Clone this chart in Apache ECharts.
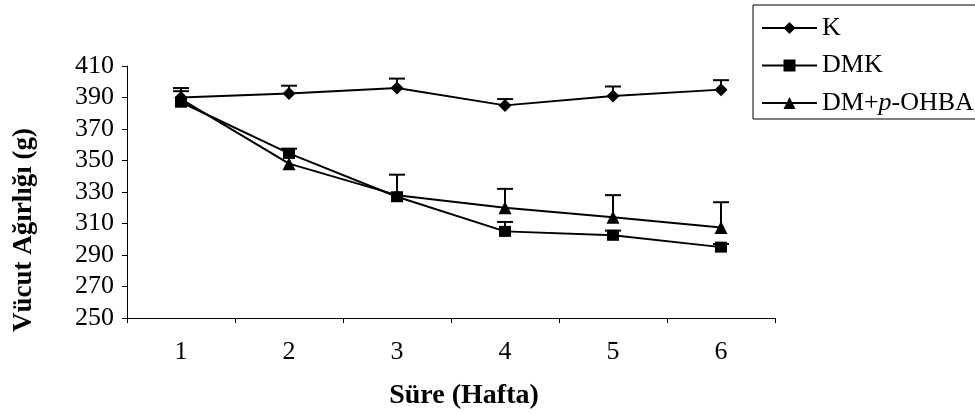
<!DOCTYPE html>
<html>
<head>
<meta charset="utf-8">
<script src="https://cdn.jsdelivr.net/npm/echarts@6/dist/echarts.min.js"></script>
<style>html,body{margin:0;padding:0;background:#fff;}#c{width:975px;height:414px;}</style>
</head>
<body>
<div id="c"></div>
<script>
var categories = ['1', '2', '3', '4', '5', '6'];
var seriesNames = ['K', 'DMK', 'DM+p-OHBA'];
var kValues = [390, 392.5, 396, 385, 391, 395];
var dmkValues = [387, 354.5, 327, 305, 302.5, 295];
var dmpValues = [389, 348, 328, 320, 314, 307.5];
var kErrors = [6, 5, 6, 4, 6, 6];
var dmkErrors = [0, 3, 0, 6, 3, 2];
var dmpErrors = [5, 0, 13, 12, 14, 16];
var yTicks = { min: 250, max: 410, interval: 20 };
var xTitle = 'Süre (Hafta)';
var yTitle = 'Vücut Ağırlığı (g)';

var FONT = '"Liberation Serif", "Times New Roman", serif';

function errSeries(values, errors) {
  var data = values.map(function (v, i) { return [i, v, errors[i]]; });
  return {
    type: 'custom',
    silent: true,
    z: 3,
    data: data,
    renderItem: function (params, api) {
      var i = api.value(0), v = api.value(1), e = api.value(2);
      if (!e) return null;
      var p0 = api.coord([i, v]);
      var p1 = api.coord([i, v + e]);
      var hw = 8;
      return {
        type: 'group',
        children: [
          { type: 'line', shape: { x1: p0[0], y1: p0[1], x2: p1[0], y2: p1[1] }, style: { stroke: '#000', lineWidth: 2 } },
          { type: 'line', shape: { x1: p1[0] - hw, y1: p1[1], x2: p1[0] + hw, y2: p1[1] }, style: { stroke: '#000', lineWidth: 2 } }
        ]
      };
    }
  };
}

function lineSeries(name, values, symbol, size) {
  return {
    name: name,
    type: 'line',
    data: values,
    symbol: symbol,
    symbolSize: size,
    showAllSymbol: true,
    z: 4,
    lineStyle: { color: '#000', width: 2 },
    itemStyle: { color: '#000', borderWidth: 0 },
    emphasis: { disabled: true },
    animation: false
  };
}

var chart = echarts.init(document.getElementById('c'), null, { renderer: 'canvas' });
chart.setOption({
  animation: false,
  backgroundColor: '#fff',
  grid: { left: 127, right: 200, top: 66, bottom: 96, containLabel: false },
  legend: {
    data: seriesNames,
    orient: 'vertical',
    left: 753,
    top: 5,
    padding: [9, 80, 2, 8],
    itemGap: 9.5,
    itemWidth: 55,
    itemHeight: 15,
    borderColor: '#000',
    borderWidth: 1,
    borderRadius: 0,
    textStyle: {
      fontFamily: FONT,
      fontSize: 26,
      color: '#000',
      lineHeight: 28,
      rich: { i: { fontFamily: FONT, fontSize: 26, fontStyle: 'italic', color: '#000', lineHeight: 28 } }
    },
    formatter: function (n) { return n === 'DM+p-OHBA' ? 'DM+{i|p}-OHBA' : n; }
  },
  graphic: [
    {
      type: 'text', left: null, x: 464, y: 396,
      style: { text: xTitle, font: 'bold 28px ' + FONT, fill: '#000', align: 'center', verticalAlign: 'middle' }
    },
    {
      type: 'text', x: 24, y: 230, rotation: Math.PI / 2,
      style: { text: yTitle, font: 'bold 27px ' + FONT, fill: '#000', align: 'center', verticalAlign: 'middle' }
    }
  ],
  xAxis: {
    type: 'category',
    data: categories,
    boundaryGap: true,
    axisLine: { lineStyle: { color: '#000', width: 1 } },
    axisTick: { show: true, inside: false, length: 5, lineStyle: { color: '#000' }, alignWithLabel: false },
    axisLabel: { fontFamily: FONT, fontSize: 26, color: '#000', margin: 21 },
    splitLine: { show: false }
  },
  yAxis: {
    type: 'value',
    min: yTicks.min,
    max: yTicks.max,
    interval: yTicks.interval,
    axisLine: { show: true, lineStyle: { color: '#000', width: 1 } },
    axisTick: { show: true, inside: false, length: 5, lineStyle: { color: '#000' } },
    axisLabel: { fontFamily: FONT, fontSize: 26, color: '#000', margin: 13 },
    splitLine: { show: false }
  },
  series: [
    lineSeries('K', kValues, 'diamond', [13, 13]),
    lineSeries('DMK', dmkValues, 'rect', [12, 11]),
    lineSeries('DM+p-OHBA', dmpValues, 'triangle', [13, 13]),
    errSeries(kValues, kErrors),
    errSeries(dmkValues, dmkErrors),
    errSeries(dmpValues, dmpErrors)
  ]
});
</script>
</body>
</html>
